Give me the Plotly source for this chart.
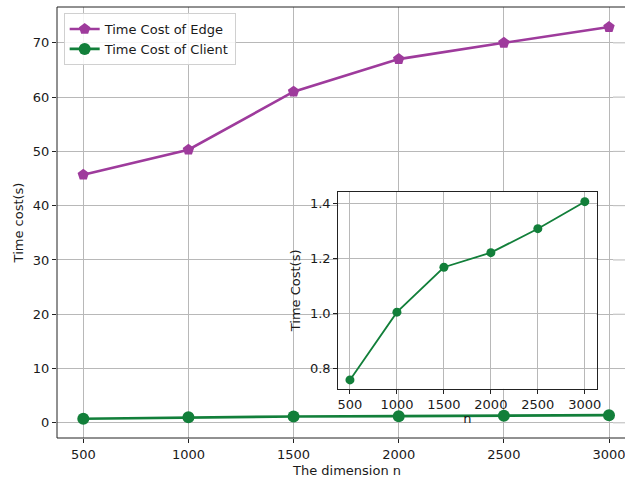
import plotly.graph_objects as go

# matrix dimension n
n = [500, 1000, 1500, 2000, 2500, 3000]
# time cost in seconds
edge_cost = [45.7, 50.3, 61.0, 67.0, 70.0, 72.9]
client_cost = [0.76, 1.006, 1.169, 1.222, 1.309, 1.407]
main_yticks = [0, 10, 20, 30, 40, 50, 60, 70]
inset_yticks = [0.8, 1.0, 1.2, 1.4]

edge_color = "#9e3b9c"
client_color = "#127f3a"
grid_color = "#b8b8b8"
font = dict(family="DejaVu Sans", size=13, color="#1a1a1a")

fig = go.Figure()

fig.add_trace(go.Scatter(
    x=n, y=edge_cost, mode="lines+markers", name="Time Cost of Edge",
    line=dict(color=edge_color, width=2.6),
    marker=dict(symbol="pentagon", size=12, color=edge_color),
    xaxis="x", yaxis="y", cliponaxis=False,
))
fig.add_trace(go.Scatter(
    x=n, y=client_cost, mode="lines+markers", name="Time Cost of Client",
    line=dict(color=client_color, width=2.6),
    marker=dict(symbol="circle", size=12, color=client_color),
    xaxis="x", yaxis="y", cliponaxis=False,
))
# zoomed-in view of the client cost
fig.add_trace(go.Scatter(
    x=n, y=client_cost, mode="lines+markers", showlegend=False,
    line=dict(color=client_color, width=1.8),
    marker=dict(symbol="circle", size=9, color=client_color),
    xaxis="x2", yaxis="y2",
))

axis_common = dict(
    showgrid=True, gridcolor=grid_color, gridwidth=1,
    ticks="outside", ticklen=4, tickcolor="#222222",
    zeroline=False, tickfont=font, automargin=False,
    ticklabeloverflow="allow",
)
spine = dict(showline=True, linecolor="#222222", linewidth=1, mirror=True)

fig.update_layout(
    width=625, height=478,
    margin=dict(l=57, r=12, t=7, b=40),
    paper_bgcolor="white", plot_bgcolor="white",
    font=font,
    xaxis=dict(
        **axis_common, domain=[0, 1], range=[375, 3019], showline=False,
        tickvals=n,
    ),
    yaxis=dict(
        **axis_common, domain=[0, 1], range=[-2.8, 76.6], showline=False,
        tickvals=main_yticks,
        title=dict(text="Time cost(s)", font=font, standoff=6),
    ),
    xaxis2=dict(
        **axis_common, **spine, domain=[0.5058, 0.9704], range=[375, 3125],
        anchor="y2", tickvals=n,
        title=dict(text="n", font=font, standoff=2),
    ),
    yaxis2=dict(
        **axis_common, **spine, domain=[0.114, 0.571], range=[0.7275, 1.4425],
        anchor="x2", tickvals=inset_yticks, tickformat=".1f",
        title=dict(text="Time Cost(s)", font=font, standoff=6),
    ),
    legend=dict(
        x=0.012, y=0.986, xanchor="left", yanchor="top",
        bgcolor="rgba(255,255,255,0.85)", bordercolor="#d0d0d0", borderwidth=1,
        font=font, itemwidth=30, tracegroupgap=0,
    ),
)

# x-axis title, centred on the full (page-clipped) axes width
fig.add_annotation(text="The dimension n", xref="paper", yref="paper",
                   x=0.52, y=0, yshift=-32, showarrow=False,
                   xanchor="center", yanchor="middle", font=font)

# horizontal grid running on to the page edge
for t in main_yticks:
    fig.add_shape(type="line", xref="paper", yref="y",
                  x0=1, x1=1.03, y0=t, y1=t,
                  line=dict(color=grid_color, width=1), layer="below")

# main frame: left, bottom and top edges, running on to the page edge
for x0, y0, x1, y1 in [(0, 0, 0, 1), (0, 0, 1.03, 0), (0, 1, 1.03, 1)]:
    fig.add_shape(type="line", xref="paper", yref="paper",
                  x0=x0, y0=y0, x1=x1, y1=y1,
                  line=dict(color="#222222", width=1), layer="above")

fig.write_html("out.html")
